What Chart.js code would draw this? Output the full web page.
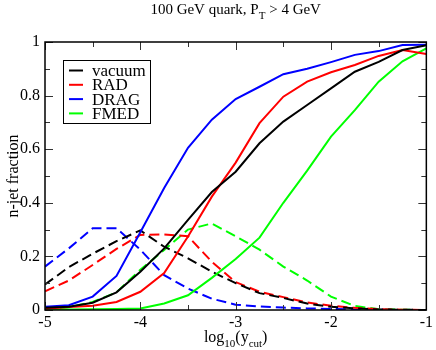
<!DOCTYPE html>
<html>
<head>
<meta charset="utf-8">
<script src="https://cdn.jsdelivr.net/npm/chart.js@4/dist/chart.umd.min.js"></script>
<style>
  html, body { margin: 0; padding: 0; background: #fff; }
  #wrap { width: 436px; height: 350px; }
</style>
</head>
<body>
<div id="wrap"><canvas id="jetChart" width="436" height="350"></canvas></div>
<script>
const logYcut = [-5, -4.75, -4.5, -4.25, -4, -3.75, -3.5, -3.25, -3, -2.75, -2.5, -2.25, -2, -1.75, -1.5, -1.25, -1];

// solid lines
const vacuumSolid = [0.008, 0.012, 0.027, 0.066, 0.143, 0.23, 0.336, 0.44, 0.516, 0.622, 0.703, 0.765, 0.827, 0.889, 0.926, 0.97, 0.988];
const radSolid = [0.005, 0.011, 0.016, 0.03, 0.068, 0.138, 0.274, 0.423, 0.55, 0.697, 0.796, 0.852, 0.887, 0.914, 0.948, 0.97, 0.955];
const dragSolid = [0.012, 0.018, 0.05, 0.127, 0.29, 0.455, 0.605, 0.71, 0.787, 0.833, 0.88, 0.9, 0.925, 0.952, 0.966, 0.989, 0.99];
const fmedSolid = [0.002, 0.002, 0.003, 0.004, 0.006, 0.024, 0.055, 0.12, 0.19, 0.27, 0.4, 0.52, 0.647, 0.746, 0.852, 0.928, 0.976];

// dashed lines
const vacuumDashed = [0.095, 0.16, 0.21, 0.257, 0.297, 0.236, 0.193, 0.143, 0.1, 0.063, 0.045, 0.024, 0.012, 0.006, 0.002, 0.001, 0];
const radDashed = [0.07, 0.11, 0.168, 0.228, 0.28, 0.282, 0.275, 0.18, 0.104, 0.068, 0.048, 0.028, 0.016, 0.008, 0.003, 0.001, 0];
const dragDashed = [0.162, 0.23, 0.305, 0.305, 0.225, 0.13, 0.08, 0.042, 0.02, 0.013, 0.009, 0.006, 0.004, 0.002, 0.001, 0, 0];
const fmedDashed = [0.004, 0.01, 0.03, 0.066, 0.15, 0.224, 0.3, 0.323, 0.275, 0.225, 0.162, 0.11, 0.05, 0.015, 0.003, 0.001, 0];

const xTicks = [-5, -4, -3, -2, -1];
const yTicks = [0, 0.2, 0.4, 0.6, 0.8, 1];

const SERIF = "'Liberation Serif', 'DejaVu Serif', serif";

const pts = arr => logYcut.map((x, i) => ({ x, y: arr[i] }));

const line = (label, data, color, dashed) => ({
  label,
  data: pts(data),
  borderColor: color,
  backgroundColor: color,
  borderWidth: 2,
  borderDash: dashed ? [10, 5] : [],
  pointRadius: 0,
  tension: 0,
  fill: false,
  inLegend: !dashed
});

// frame, inward ticks, title, axis titles, legend
const decorations = {
  id: "decorations",
  afterDatasetsDraw(chart) {
    const { ctx, chartArea: a, scales } = chart;
    const xs = scales.x, ys = scales.y;
    ctx.save();

    // ticks on all four sides
    ctx.strokeStyle = "#333";
    ctx.lineWidth = 1;
    const tick = (x1, y1, x2, y2) => {
      ctx.beginPath(); ctx.moveTo(x1, y1); ctx.lineTo(x2, y2); ctx.stroke();
    };
    for (let v = -5; v <= -1.0001; v += 0.5) {
      const px = Math.round(xs.getPixelForValue(v)) + 0.5;
      const len = Number.isInteger(v) ? 8 : 5;
      tick(px, a.bottom, px, a.bottom - len);
      tick(px, a.top, px, a.top + len);
    }
    for (let k = 0; k <= 10; k++) {
      const py = Math.round(ys.getPixelForValue(k / 10)) + 0.5;
      const len = k % 2 === 0 ? 8 : 5;
      tick(a.left, py, a.left + len, py);
      tick(a.right, py, a.right - len, py);
    }

    // frame
    ctx.strokeStyle = "#000";
    ctx.lineWidth = 1.5;
    ctx.strokeRect(a.left, a.top, a.right - a.left, a.bottom - a.top);

    ctx.fillStyle = "#000";
    ctx.textBaseline = "alphabetic";

    // draw text with subscripts: parts = [[text, isSub], ...]
    const drawParts = (parts, cx, baseY, size, subSize) => {
      const widths = parts.map(([t, sub]) => {
        ctx.font = `${sub ? subSize : size}px ${SERIF}`;
        return ctx.measureText(t).width;
      });
      let x = cx - widths.reduce((s, w) => s + w, 0) / 2;
      ctx.textAlign = "left";
      parts.forEach(([t, sub], i) => {
        ctx.font = `${sub ? subSize : size}px ${SERIF}`;
        ctx.fillText(t, x, sub ? baseY + size * 0.3 : baseY);
        x += widths[i];
      });
    };

    const midX = (a.left + a.right) / 2;
    drawParts([["100 GeV quark, P", false], ["T", true], [" > 4 GeV", false]], midX, 14, 15, 11);
    drawParts([["log", false], ["10", true], ["(y", false], ["cut", true], [")", false]], midX, 342, 16, 11);

    // y axis title
    ctx.save();
    ctx.translate(18, (a.top + a.bottom) / 2);
    ctx.rotate(-Math.PI / 2);
    ctx.textAlign = "center";
    ctx.font = `16px ${SERIF}`;
    ctx.fillText("n-jet fraction", 0, 0);
    ctx.restore();

    // legend
    const items = chart.data.datasets.filter(d => d.inLegend);
    const lx = 63, ly = 60, lw = 87, lh = 63;
    ctx.fillStyle = "#fff";
    ctx.fillRect(lx, ly, lw, lh);
    ctx.strokeStyle = "#000";
    ctx.lineWidth = 1;
    ctx.strokeRect(lx + 0.5, ly + 0.5, lw, lh);
    ctx.font = `17px ${SERIF}`;
    ctx.textAlign = "left";
    ctx.textBaseline = "middle";
    items.forEach((d, i) => {
      const y = ly + 10.5 + i * 14.3;
      ctx.strokeStyle = d.borderColor;
      ctx.lineWidth = 2;
      tick(lx + 6, y, lx + 20, y);
      ctx.fillStyle = "#000";
      ctx.fillText(d.label, lx + 29, y + 1);
    });

    ctx.restore();
  }
};

new Chart(document.getElementById("jetChart"), {
  type: "line",
  data: {
    datasets: [
      line("vacuum", vacuumSolid, "#000000", false),
      line("RAD", radSolid, "#ff0000", false),
      line("DRAG", dragSolid, "#0000ff", false),
      line("FMED", fmedSolid, "#00ff00", false),
      line("vacuum (dashed)", vacuumDashed, "#000000", true),
      line("RAD (dashed)", radDashed, "#ff0000", true),
      line("DRAG (dashed)", dragDashed, "#0000ff", true),
      line("FMED (dashed)", fmedDashed, "#00ff00", true)
    ]
  },
  options: {
    responsive: false,
    animation: false,
    layout: { padding: { top: 42, right: 8, left: 0, bottom: 0 } },
    plugins: {
      legend: { display: false },
      title: { display: false },
      tooltip: { enabled: false }
    },
    scales: {
      x: {
        type: "linear",
        min: -5,
        max: -1,
        afterFit: s => { s.height = 40; },
        afterBuildTicks: s => { s.ticks = xTicks.map(value => ({ value })); },
        grid: { display: false, drawTicks: false },
        border: { display: false },
        ticks: {
          color: "#000",
          padding: 3,
          maxRotation: 0,
          font: { family: SERIF, size: 16 },
          callback: v => String(v)
        }
      },
      y: {
        min: 0,
        max: 1,
        afterFit: s => { s.width = 45; },
        afterBuildTicks: s => { s.ticks = yTicks.map(value => ({ value })); },
        grid: { display: false, drawTicks: false },
        border: { display: false },
        ticks: {
          color: "#000",
          padding: 5,
          font: { family: SERIF, size: 16 },
          callback: v => String(+v.toFixed(1))
        }
      }
    }
  },
  plugins: [decorations]
});
</script>
</body>
</html>
